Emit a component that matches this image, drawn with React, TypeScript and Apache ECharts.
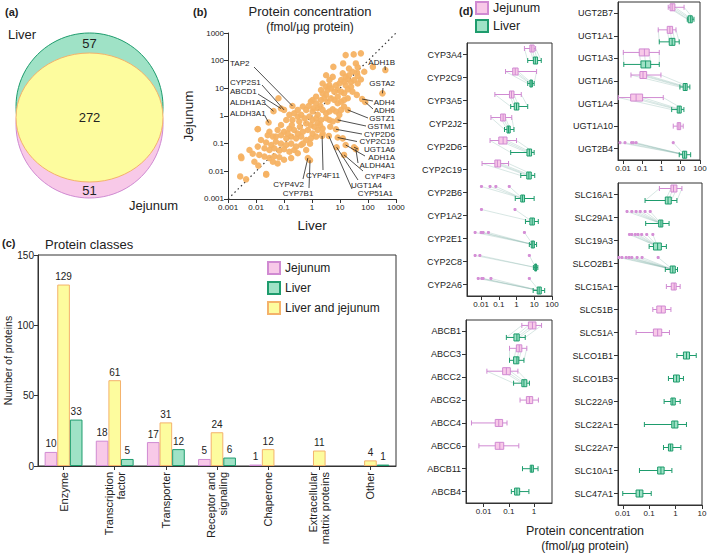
import React, { useEffect, useRef } from "react";
import * as echarts from "echarts";

const FONT = "'Liberation Sans', Arial, Helvetica, sans-serif";
const INK = "#222";
const AXIS = "#333";
const PINK_FILL = "#f8c9e8";
const PINK_LINE = "#d08ad2";
const GREEN_FILL = "#9fe2c6";
const GREEN_LINE = "#1e9c6d";
const YELLOW_FILL = "#fdfc9e";
const YELLOW_LINE = "#f4b26b";
const ORANGE = "#f6b263";
const CONNECT = "rgba(130,180,170,0.45)";

// ---------- (a) Venn diagram ----------
const vennSetNames = ["Liver", "Jejunum"];
const vennCounts = [57, 272, 51]; // liver only, both, jejunum only

// ---------- (b) scatter: [liver, jejunum] fmol/µg protein ----------
const scatterLiverJejunum: number[][] = [
  [16, 160], [31, 170], [56, 185], [5.8, 60], [13, 80], [150, 60], [28, 40], [41, 37], [12.6, 35], [16, 26],
  [21, 30], [43, 28], [5.5, 26], [11, 20], [14, 17], [19, 21], [25, 17], [32, 20], [43, 15], [9.5, 15],
  [7.2, 13], [4.2, 13], [3.2, 11.5], [16, 13], [25, 11.5], [56, 21], [3.6, 8.7], [4.8, 10], [6.3, 7.6], [8.3, 8.7],
  [11, 7.6], [14, 6.6], [19, 9.1], [28, 7.6], [2.4, 6.6], [3.2, 5.8], [40, 5.8], [0.91, 3.3], [1.4, 2.9], [2.1, 3.8],
  [2.75, 4.4], [3.6, 3.3], [4.8, 4.4], [6.3, 3.8], [8.3, 2.9], [11, 3.3], [14, 3.8], [19, 4.4], [0.47, 2.2], [0.62, 1.66],
  [1.05, 1.45], [1.6, 1.9], [2.4, 1.66], [3.2, 1.26], [4.2, 1.45], [5.5, 1.74], [7.2, 1.45], [11, 1.66], [1.6, 1.1], [0.063, 4.4],
  [0.155, 1.1], [0.23, 1.26], [0.31, 0.95], [0.41, 1.1], [0.54, 0.83], [0.8, 0.95], [1.05, 0.72], [1.4, 0.83], [2.1, 0.72], [3.2, 0.83],
  [4.2, 0.72], [5.5, 0.63], [0.35, 0.63], [0.62, 0.54], [0.91, 0.47], [1.6, 0.54], [0.2, 0.72], [0.12, 0.72], [0.078, 0.47], [0.0115, 0.33],
  [0.03, 0.27], [0.059, 0.31], [0.1, 0.27], [0.155, 0.35], [0.23, 0.31], [0.31, 0.23], [0.47, 0.27], [0.71, 0.31], [1.05, 0.23], [1.6, 0.31],
  [2.4, 0.35], [0.051, 0.18], [0.078, 0.2], [0.12, 0.155], [0.18, 0.18], [0.27, 0.155], [0.41, 0.18], [0.62, 0.135], [0.91, 0.155], [12.6, 0.155],
  [0.015, 0.135], [0.023, 0.11], [0.035, 0.089], [0.051, 0.117], [0.078, 0.1], [0.12, 0.089], [0.18, 0.1], [0.27, 0.078], [0.41, 0.089], [0.02, 0.068],
  [0.03, 0.059], [0.045, 0.068], [0.068, 0.056], [0.1, 0.063], [0.155, 0.051], [0.23, 0.059], [0.62, 0.059], [0.0076, 0.043], [0.013, 0.039], [0.02, 0.034],
  [0.03, 0.03], [0.045, 0.035], [0.068, 0.032], [0.1, 0.026], [0.18, 0.03], [0.0029, 0.034], [0.04, 0.022], [0.059, 0.019], [0.0087, 0.022], [0.023, 0.008],
  [0.0044, 0.0051], [0.0027, 0.0065], [0.012, 0.016], [0.023, 0.0075], [0.003, 0.03], [0.0115, 0.34], [2.0, 2.3], [1.12, 1.9], [0.76, 2.3], [0.31, 1.66],
  [0.37, 0.41], [1.2, 0.41], [1.95, 0.47], [0.19, 0.47], [0.135, 0.23], [0.04, 0.18], [0.026, 0.2], [0.0115, 0.078], [0.0058, 0.059], [0.31, 0.045],
  [0.47, 0.1], [3.2, 30], [4.2, 20], [2.4, 15], [2.1, 8.7], [1.4, 5], [1.05, 3.8], [8.3, 5], [14, 2.2], [9.5, 1.1],
  [4.5, 0.41], [2.4, 0.23], [1.4, 0.18], [0.85, 0.1], [37, 80], [74, 40], [21, 52], [43, 58],
];
const labeledGenes = ["TAP2", "CYP2S1", "ABCD1", "ALDH1A3", "ALDH3A1", "ADH1B", "GSTA2", "ADH4", "ADH6", "GSTZ1", "GSTM1",
  "CYP2D6", "CYP2C19", "UGT1A6", "ADH1A", "ALDH4A1", "CYP4F3", "UGT1A4", "CYP51A1", "CYP4F11", "CYP4V2", "CYP7B1"];
const labeledLiver = [0.2, 0.1, 0.078, 0.042, 0.028, 420, 330, 62, 80, 19, 8.3, 7.2, 8.3, 32, 16, 37, 14, 7.6, 4.0, 2.3, 0.71, 0.85];
const labeledJejunum = [2.3, 1.66, 1.86, 1.5, 0.58, 46, 6.6, 4.1, 3.2, 1.66, 0.72, 0.33, 0.166, 0.074, 0.089, 0.063, 0.039, 0.074, 0.19, 0.19, 0.03, 0.025];
// label text anchor [x, y, align, lineStartX, lineStartY] (pixels)
const labelPlacement: [number, number, string, number, number][] = [
  [230, 63, "left", 254, 67], [230, 82, "left", 262, 85], [230, 91, "left", 258, 94], [230, 102, "left", 265, 104],
  [230, 113, "left", 265, 116], [395, 62, "right", 385, 66], [395, 83, "right", 383, 88], [395, 102, "right", 373, 101],
  [395, 110, "right", 373, 109], [395, 118, "right", 368, 118], [395, 126, "right", 366, 126], [395, 134, "right", 362, 134],
  [395, 141.5, "right", 357, 141.5], [395, 149, "right", 358, 149], [395, 157, "right", 365, 156], [395, 165, "right", 358, 163],
  [395, 176, "right", 363, 171], [382, 185, "right", 358, 180], [393, 193, "right", 352, 189], [323, 175, "center", 323, 170],
  [304, 184, "right", 303, 179], [298, 193, "center", 309, 188],
];
const identityLine = [[0.001, 0.001], [1000, 1000]];
const scatterTicks = [0.001, 0.01, 0.1, 1, 10, 100, 1000];

// ---------- (c) protein classes ----------
const classCategories = ["Enzyme", "Transcription\nfactor", "Transporter", "Receptor and\nsignaling", "Chaperone", "Extracellular\nmatrix proteins", "Other"];
const jejunumCounts = [10, 18, 17, 5, 1, null, null];
const sharedCounts = [129, 61, 31, 24, 12, 11, 4];
const liverCounts = [33, 5, 12, 6, null, null, 1];

// ---------- (d) box plots: [min, q1, median, q3, max] ----------
const cypGenes = ["CYP3A4", "CYP2C9", "CYP3A5", "CYP2J2", "CYP2D6", "CYP2C19", "CYP2B6", "CYP1A2", "CYP2E1", "CYP2C8", "CYP2A6"];
const cypJejunum = [[2.8, 5.7, 7.3, 9.9, 12], [0.24, 0.61, 0.85, 1.23, 13.6], [0.06, 0.4, 0.52, 0.72, 1.86], [0.036, 0.127, 0.175, 0.236, 0.54],
  [0.032, 0.1, 0.175, 0.29, 1.0], [0.0113, 0.06, 0.083, 0.127, 0.355], null, null, null, null, null];
const cypJejunumDots = [null, null, null, null, null, null, [0.0105, 0.032, 0.068, 0.39], [0.0105, 0.82],
  [0.0046, 0.01, 0.013, 0.026, 2.8], [0.0046, 0.0085, 5.3], [0.0069, 0.011, 0.013, 0.036, 5.3]];
const cypLiver = [[4.3, 9, 11.6, 15.5, 25], [4.3, 5.7, 6.7, 7.9, 9.9], [0.47, 0.75, 1.0, 1.35, 4.3], [0.21, 0.29, 0.355, 0.44, 0.72],
  [0.47, 3.9, 5.3, 7.1, 9.9], [1.74, 3.8, 5.0, 6.8, 10.7], [0.85, 1.74, 2.2, 2.84, 9.9], [3.2, 5.7, 7.7, 10.2, 17],
  [5.3, 6.8, 8.3, 10.2, 13.6], [9, 10.7, 12, 13.6, 16], [8.7, 14.8, 19, 25, 39]];

const abcGenes = ["ABCB1", "ABCC3", "ABCC2", "ABCG2", "ABCC4", "ABCC6", "ABCB11", "ABCB4"];
const abcJejunum = [[0.33, 0.6, 0.87, 1.2, 2.0], [0.107, 0.2, 0.26, 0.33, 0.52], [0.0135, 0.057, 0.08, 0.115, 0.23], [0.28, 0.5, 0.66, 0.89, 1.5],
  [0.0033, 0.029, 0.04, 0.057, 0.085], [0.0065, 0.029, 0.044, 0.063, 0.25], null, null];
const abcJejunumDots = [null, null, null, null, null, null, null, null];
const abcLiver = [[0.08, 0.16, 0.21, 0.26, 0.45], [0.107, 0.155, 0.21, 0.25, 0.4], [0.155, 0.33, 0.4, 0.52, 0.66], null, null, null,
  [0.35, 0.71, 0.81, 0.95, 1.45], [0.126, 0.17, 0.21, 0.27, 0.63]];

const ugtGenes = ["UGT2B7", "UGT1A1", "UGT1A3", "UGT1A6", "UGT1A4", "UGT1A10", "UGT2B4"];
const ugtJejunum = [[2.25, 2.8, 3.6, 5, 15], [0.68, 2.0, 2.75, 3.8, 5.7], [0.0104, 0.07, 0.13, 0.23, 0.77], [0.026, 0.076, 0.11, 0.17, 0.94],
  [0.0057, 0.025, 0.048, 0.105, 1.24], [4.1, 6.6, 8.1, 10, 13.5], null];
const ugtJejunumDots = [null, null, null, null, null, null, [0.007, 0.0127, 0.028, 0.034, 0.048, 4.1]];
const ugtLiver = [[22, 24.6, 33, 40, 49], [0.77, 2.54, 3.6, 5, 8.4], [0.011, 0.086, 0.15, 0.275, 0.77], [9.1, 13.5, 17.4, 21.7, 30],
  [3.4, 6.6, 8.4, 10.7, 14.7], null, [8.4, 12.6, 16, 20.5, 33]];

const slcGenes = ["SLC16A1", "SLC29A1", "SLC19A3", "SLCO2B1", "SLC15A1", "SLC51B", "SLC51A", "SLCO1B1", "SLCO1B3", "SLC22A9", "SLC22A1", "SLC22A7", "SLC10A1", "SLC47A1"];
const slcJejunum = [[0.245, 0.67, 0.84, 1.13, 1.75], null, null, null, [0.45, 0.69, 0.89, 1.06, 1.5], [0.138, 0.195, 0.29, 0.41, 0.67],
  [0.032, 0.145, 0.21, 0.3, 0.59], null, null, null, null, null, null, null];
const slcJejunumDots = [null, [0.0145, 0.022, 0.032, 0.046, 0.07, 0.11], [0.018, 0.022, 0.03, 0.038, 0.052, 0.081, 0.138],
  [0.0072, 0.0093, 0.0135, 0.0174, 0.022, 0.035, 0.054, 0.22], null, null, null, null, null, null, null, null, null, null];
const slcLiver = [[0.07, 0.41, 0.52, 0.69, 1.13], [0.074, 0.23, 0.28, 0.33, 0.57], [0.1, 0.146, 0.21, 0.29, 0.45], [0.41, 0.63, 0.79, 0.98, 1.19],
  null, null, null, [1.13, 2.0, 2.6, 3.4, 6.1], [0.54, 0.84, 1.1, 1.4, 2.0], [0.37, 0.67, 0.79, 0.98, 1.5], [0.066, 0.72, 0.89, 1.23, 2.6],
  [0.35, 0.54, 0.65, 0.79, 1.6], [0.043, 0.21, 0.28, 0.37, 0.73], [0.01, 0.032, 0.043, 0.058, 0.12]];

const fmtLog = (v: number) => (v >= 1 ? String(Math.round(v)) : String(parseFloat(v.toPrecision(2))));

function boxEls(s: number[], y: number, stroke: string, fill: string, X: (v: number) => number) {
  const [mn, q1, md, q3, mx] = s.map(X);
  const ls = { stroke, lineWidth: 1 };
  return [
    { type: "line", shape: { x1: mn, y1: y, x2: mx, y2: y }, style: ls },
    { type: "line", shape: { x1: mn, y1: y - 2.5, x2: mn, y2: y + 2.5 }, style: ls },
    { type: "line", shape: { x1: mx, y1: y - 2.5, x2: mx, y2: y + 2.5 }, style: ls },
    { type: "rect", shape: { x: q1, y: y - 3.5, width: Math.max(q3 - q1, 1.5), height: 7 }, style: { fill, stroke, lineWidth: 1 } },
    { type: "line", shape: { x1: md, y1: y - 3.5, x2: md, y2: y + 3.5 }, style: ls },
  ];
}

function boxSeries(idx: number, genes: string[], jej: any[], jejDots: any[], liv: any[]) {
  return {
    type: "custom",
    xAxisIndex: idx,
    yAxisIndex: idx,
    silent: true,
    data: genes.map((_, i) => [1, i]),
    encode: { x: 0, y: 1 },
    renderItem: (params: any, api: any) => {
      const i = api.value(1);
      const yc = api.coord([1, i])[1];
      const X = (v: number) => api.coord([v, i])[0];
      const j = jej[i];
      const jd = jejDots[i];
      const l = liv[i];
      const both = (j || jd) && l;
      const yJ = yc + (both ? -6 : 0);
      const yL = yc + (both ? 6 : 0);
      const children: any[] = [];
      if (both) {
        const pairs: number[][] = j ? [[j[1], l[1]], [j[2], l[2]], [j[3], l[3]], [j[0], l[0]], [j[4], l[4]]] : jd.map((d: number) => [d, l[2]]);
        pairs.forEach((p) => children.push({ type: "line", shape: { x1: X(p[0]), y1: yJ, x2: X(p[1]), y2: yL }, style: { stroke: CONNECT, lineWidth: 0.7 } }));
      }
      if (j) children.push(...boxEls(j, yJ, PINK_LINE, PINK_FILL, X));
      if (jd) jd.forEach((d: number) => children.push({ type: "circle", shape: { cx: X(d), cy: yJ, r: 1.6 }, style: { fill: "#d58fd6", stroke: null } }));
      if (l) children.push(...boxEls(l, yL, GREEN_LINE, GREEN_FILL, X));
      return { type: "group", children };
    },
  };
}

const axisLineStyle = { color: AXIS, width: 1 };

function logX(grid: number, min: number, max: number, ticks: number[], fontSize = 8) {
  return {
    type: "log", logBase: 10, gridIndex: grid, min, max,
    axisLine: { show: true, lineStyle: axisLineStyle },
    axisTick: { show: true, length: 4, customValues: ticks, lineStyle: axisLineStyle },
    axisLabel: { customValues: ticks, fontSize, color: INK, margin: 4, formatter: fmtLog, fontFamily: FONT },
    splitLine: { show: false }, minorTick: { show: false },
  };
}
function catY(grid: number, genes: string[]) {
  return {
    type: "category", gridIndex: grid, data: genes, inverse: true,
    axisLine: { show: true, lineStyle: axisLineStyle },
    axisTick: { show: true, length: 4, alignWithLabel: true, lineStyle: axisLineStyle },
    axisLabel: { fontSize: 9, color: INK, margin: 5, interval: 0, fontFamily: FONT },
    splitLine: { show: false },
  };
}

export default function App() {
  const ref = useRef<HTMLDivElement>(null);
  useEffect(() => {
    if (!ref.current) return;
    const chart = echarts.init(ref.current, null, { renderer: "svg" });
    const gridBox = { show: true, borderColor: AXIS, borderWidth: 1, backgroundColor: "transparent", containLabel: false, outerBoundsMode: "none" };
    const titleStyle = { fontSize: 11, fontWeight: "bold", color: INK, fontFamily: FONT };
    const option: any = {
      animation: false,
      textStyle: { fontFamily: FONT, color: INK },
      title: [
        { text: "(a)", left: 5, top: 6, padding: 0, textStyle: titleStyle },
        { text: "(b)", left: 193, top: 6, padding: 0, textStyle: titleStyle },
        { text: "(c)", left: 2, top: 237, padding: 0, textStyle: titleStyle },
        { text: "(d)", left: 459, top: 5, padding: 0, textStyle: titleStyle },
        {
          text: "Protein concentration", subtext: "(fmol/µg protein)", left: 310, top: 5, textAlign: "center", itemGap: 3, padding: 0,
          textStyle: { fontSize: 13, fontWeight: "normal", color: INK, fontFamily: FONT },
          subtextStyle: { fontSize: 12, color: INK, fontFamily: FONT },
        },
        { text: "Protein classes", left: 45, top: 238, padding: 0, textStyle: { fontSize: 13, fontWeight: "normal", color: INK, fontFamily: FONT } },
        {
          text: "Protein concentration", subtext: "(fmol/µg protein)", left: 585, top: 524, textAlign: "center", itemGap: 3, padding: 0,
          textStyle: { fontSize: 12.5, fontWeight: "normal", color: INK, fontFamily: FONT },
          subtextStyle: { fontSize: 12, color: INK, fontFamily: FONT },
        },
      ],
      legend: [
        {
          data: ["Jejunum", "Liver", "Liver and jejunum"], orient: "vertical", left: 267, top: 261, padding: 0,
          itemWidth: 12, itemHeight: 12, itemGap: 6, icon: "rect", selectedMode: false,
          textStyle: { fontSize: 12, color: INK, fontFamily: FONT },
        },
        {
          data: ["Jejunum", "Liver"], orient: "vertical", left: 475, top: 1, padding: 0,
          itemWidth: 12, itemHeight: 12, itemGap: 4, icon: "rect", selectedMode: false,
          textStyle: { fontSize: 12.5, color: INK, fontFamily: FONT },
        },
      ],
      grid: [
        { left: 228, top: 33, width: 168, height: 166, show: false, containLabel: false, outerBoundsMode: "none" },
        { ...gridBox, left: 38, top: 255, width: 358, height: 211 },
        { ...gridBox, left: 467, top: 43, width: 85, height: 253 },
        { ...gridBox, left: 466, top: 320, width: 86, height: 183 },
        { ...gridBox, left: 618, top: 2, width: 82, height: 158 },
        { ...gridBox, left: 618, top: 183, width: 84, height: 322 },
      ],
      xAxis: [
        {
          ...logX(0, 0.00099, 1010, scatterTicks, 8),
          name: "Liver", nameLocation: "middle", nameGap: 19, nameMoveOverlap: false,
          nameTextStyle: { fontSize: 13.5, color: INK, fontFamily: FONT },
        },
        {
          type: "category", gridIndex: 1, data: classCategories,
          axisLine: { show: true, lineStyle: axisLineStyle },
          axisTick: { show: true, alignWithLabel: true, length: 4, lineStyle: axisLineStyle },
          axisLabel: { rotate: 90, fontSize: 11, lineHeight: 12, color: INK, interval: 0, margin: 6, fontFamily: FONT },
        },
        logX(2, 0.0016, 101, [0.01, 0.1, 1, 10, 100]),
        logX(3, 0.002, 5.2, [0.01, 0.1, 1]),
        logX(4, 0.0055, 101, [0.01, 0.1, 1, 10, 100]),
        logX(5, 0.0066, 10.1, [0.01, 0.1, 1, 10]),
      ],
      yAxis: [
        {
          ...logX(0, 0.00099, 1010, scatterTicks, 8),
          name: "Jejunum", nameLocation: "middle", nameGap: 33, nameMoveOverlap: false,
          nameTextStyle: { fontSize: 13.5, color: INK, fontFamily: FONT },
        },
        {
          type: "value", gridIndex: 1, min: 0, max: 150, interval: 50,
          axisLine: { show: true, lineStyle: axisLineStyle },
          axisTick: { show: true, length: 4, lineStyle: axisLineStyle },
          axisLabel: { fontSize: 10, color: INK, margin: 4, fontFamily: FONT },
          splitLine: { show: false },
          name: "Number of proteins", nameLocation: "middle", nameGap: 25, nameMoveOverlap: false,
          nameTextStyle: { fontSize: 10.5, color: INK, fontFamily: FONT },
        },
        catY(2, cypGenes),
        catY(3, abcGenes),
        catY(4, ugtGenes),
        catY(5, slcGenes),
      ],
      graphic: [
        { type: "circle", shape: { cx: 89.5, cy: 124.5, r: 73.5 }, style: { fill: PINK_FILL, stroke: PINK_LINE, lineWidth: 1 } },
        { type: "circle", shape: { cx: 89.5, cy: 106.5, r: 73.5 }, style: { fill: GREEN_FILL, stroke: GREEN_LINE, lineWidth: 1 } },
        { type: "ellipse", shape: { cx: 89.5, cy: 117.5, rx: 73.5, ry: 64.5 }, style: { fill: YELLOW_FILL, stroke: YELLOW_LINE, lineWidth: 1 } },
        { type: "text", x: 8, y: 34, style: { text: vennSetNames[0], fontSize: 13, fontFamily: FONT, fill: INK, align: "left", verticalAlign: "middle" } },
        { type: "text", x: 129, y: 205, style: { text: vennSetNames[1], fontSize: 13, fontFamily: FONT, fill: INK, align: "left", verticalAlign: "middle" } },
        { type: "text", x: 89.5, y: 43, style: { text: String(vennCounts[0]), fontSize: 13, fontFamily: FONT, fill: INK, align: "center", verticalAlign: "middle" } },
        { type: "text", x: 89.5, y: 117, style: { text: String(vennCounts[1]), fontSize: 13, fontFamily: FONT, fill: INK, align: "center", verticalAlign: "middle" } },
        { type: "text", x: 89.5, y: 190, style: { text: String(vennCounts[2]), fontSize: 13, fontFamily: FONT, fill: INK, align: "center", verticalAlign: "middle" } },
      ],
      series: [
        {
          type: "line", xAxisIndex: 0, yAxisIndex: 0, data: identityLine, symbol: "none", silent: true, z: 1,
          lineStyle: { type: [1.5, 3], color: "#333", width: 1.2 },
        },
        {
          type: "scatter", xAxisIndex: 0, yAxisIndex: 0, silent: true, z: 2, symbolSize: 6.5,
          data: [...scatterLiverJejunum, ...labeledGenes.map((_, i) => [labeledLiver[i], labeledJejunum[i]])],
          itemStyle: { color: ORANGE, opacity: 0.95 },
        },
        {
          type: "custom", xAxisIndex: 0, yAxisIndex: 0, silent: true, z: 3,
          data: labeledGenes.map((_, i) => [labeledLiver[i], labeledJejunum[i]]),
          encode: { x: 0, y: 1 },
          renderItem: (params: any, api: any) => {
            const i = params.dataIndex;
            const p = api.coord([labeledLiver[i], labeledJejunum[i]]);
            const [tx, ty, align, lx, ly] = labelPlacement[i];
            return {
              type: "group",
              children: [
                { type: "line", shape: { x1: lx, y1: ly, x2: p[0], y2: p[1] }, style: { stroke: "#222", lineWidth: 0.8 } },
                { type: "text", x: tx, y: ty, style: { text: labeledGenes[i], fontSize: 8, fontFamily: FONT, fill: INK, align, verticalAlign: "middle" } },
              ],
            };
          },
        },
        {
          type: "bar", name: "Jejunum", xAxisIndex: 1, yAxisIndex: 1, data: jejunumCounts, barGap: "0%", barCategoryGap: "26%",
          itemStyle: { color: PINK_FILL, borderColor: PINK_LINE, borderWidth: 1 },
          label: { show: true, position: "top", fontSize: 10, color: INK, distance: 3, fontFamily: FONT },
        },
        {
          type: "bar", name: "Liver and jejunum", xAxisIndex: 1, yAxisIndex: 1, data: sharedCounts, barGap: "0%", barCategoryGap: "26%",
          itemStyle: { color: YELLOW_FILL, borderColor: YELLOW_LINE, borderWidth: 1 },
          label: { show: true, position: "top", fontSize: 10, color: INK, distance: 3, fontFamily: FONT },
        },
        {
          type: "bar", name: "Liver", xAxisIndex: 1, yAxisIndex: 1, data: liverCounts, barGap: "0%", barCategoryGap: "26%",
          itemStyle: { color: GREEN_FILL, borderColor: GREEN_LINE, borderWidth: 1 },
          label: { show: true, position: "top", fontSize: 10, color: INK, distance: 3, fontFamily: FONT },
        },
        boxSeries(2, cypGenes, cypJejunum, cypJejunumDots, cypLiver),
        boxSeries(3, abcGenes, abcJejunum, abcJejunumDots, abcLiver),
        boxSeries(4, ugtGenes, ugtJejunum, ugtJejunumDots, ugtLiver),
        boxSeries(5, slcGenes, slcJejunum, slcJejunumDots, slcLiver),
      ],
    };
    chart.setOption(option);
    return () => chart.dispose();
  }, []);
  return <div ref={ref} style={{ position: "fixed", left: 0, top: 0, width: 709, height: 553, background: "#fff" }} />;
}
